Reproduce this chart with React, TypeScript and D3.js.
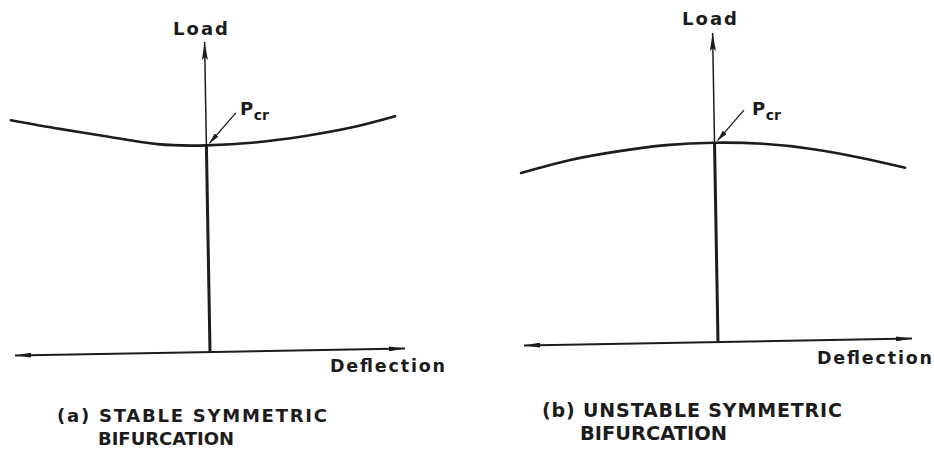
import * as d3 from "d3";

// Curve (a): stable symmetric bifurcation — load rises on both sides of Pcr
const stableDeflection = [-1, -0.75, -0.5, -0.25, 0, 0.25, 0.5, 0.75, 0.97];
const stableLoad = [1.138, 1.092, 1.05, 1.01, 1.0, 1.01, 1.036, 1.075, 1.125];

// Curve (b): unstable symmetric bifurcation — load drops on both sides of Pcr
const unstableDeflection = [-1, -0.75, -0.5, -0.25, 0, 0.25, 0.5, 0.75, 0.98];
const unstableLoad = [0.865, 0.925, 0.965, 0.992, 1.0, 0.99, 0.96, 0.912, 0.858];

const criticalLoad = 1.0;
const deflectionExtent = [-1, 1];
const loadAxisTop = [1.5, 1.55];

const loadTitle = "Load";
const deflectionTitle = "Deflection";
const pcrMain = "P";
const pcrSub = "cr";
const captionA = ["(a) STABLE SYMMETRIC", "BIFURCATION"];
const captionB = ["(b) UNSTABLE SYMMETRIC", "BIFURCATION"];

const W = 934;
const H = 450;
const ink = "#1c1c1c";
const font = "'DejaVu Sans', sans-serif";

type Layout = {
  ox: number;
  oy: number;
  halfW: number;
  loadPx: number;
  loadTop: number;
  deflection: number[];
  load: number[];
  loadLabel: [number, number, number];
  deflLabel: [number, number, number];
  pcrText: [number, number];
  caption: string[];
  cap1: [number, number, number];
  cap2: [number, number, number];
  capSize: number;
};

const panels: Layout[] = [
  {
    ox: 210,
    oy: 352,
    halfW: 195,
    loadPx: 310,
    loadTop: loadAxisTop[0],
    deflection: stableDeflection,
    load: stableLoad,
    loadLabel: [173, 35, 55],
    deflLabel: [330, 372, 115],
    pcrText: [240, 115],
    caption: captionA,
    cap1: [57, 422, 270],
    cap2: [98, 445, 136],
    capSize: 18,
  },
  {
    ox: 718,
    oy: 342,
    halfW: 194,
    loadPx: 309,
    loadTop: loadAxisTop[1],
    deflection: unstableDeflection,
    load: unstableLoad,
    loadLabel: [682, 25, 55],
    deflLabel: [817, 364, 115],
    pcrText: [752, 115],
    caption: captionB,
    cap1: [542, 417, 300],
    cap2: [580, 440, 147],
    capSize: 19,
  },
];

const Panel = ({ p, i }: { p: Layout; i: number }) => {
  const x = d3.scaleLinear().domain([-1, 1]).range([-p.halfW, p.halfW]);
  const y = d3.scaleLinear().domain([0, p.loadTop]).range([0, -p.loadPx]);

  const pts = p.deflection.map((d, k) => [d, p.load[k]] as [number, number]);
  const line = d3
    .line<[number, number]>()
    .x((d) => x(d[0]))
    .y((d) => y(d[1]))
    .curve(d3.curveNatural);

  const pcrX = x(0);
  const pcrY = y(criticalLoad);
  const tipX = pcrX + 3;
  const tipY = pcrY - 2;

  return (
    <g>
      <g transform={`translate(${p.ox},${p.oy}) rotate(-1)`}>
        {/* deflection axis, double headed */}
        <line
          x1={x(deflectionExtent[0])}
          x2={x(deflectionExtent[1])}
          y1={y(0)}
          y2={y(0)}
          stroke={ink}
          strokeWidth={2}
          markerStart={`url(#hArrow${i})`}
          markerEnd={`url(#hArrow${i})`}
        />
        {/* primary path below Pcr */}
        <line x1={pcrX} x2={pcrX} y1={y(0)} y2={pcrY} stroke={ink} strokeWidth={3} />
        {/* load axis above Pcr */}
        <line
          x1={pcrX}
          x2={pcrX}
          y1={pcrY}
          y2={y(p.loadTop)}
          stroke={ink}
          strokeWidth={1.5}
          markerEnd={`url(#vArrow${i})`}
        />
        {/* post-buckling curve */}
        <path d={line(pts) ?? ""} fill="none" stroke={ink} strokeWidth={2.6} strokeLinecap="round" />
        {/* Pcr pointer */}
        <line
          x1={tipX + 27}
          y1={tipY - 30}
          x2={tipX}
          y2={tipY}
          stroke={ink}
          strokeWidth={1.3}
          markerEnd={`url(#pArrow${i})`}
        />
      </g>

      <text
        x={p.loadLabel[0]}
        y={p.loadLabel[1]}
        textLength={p.loadLabel[2]}
        lengthAdjust="spacing"
        fontFamily={font}
        fontWeight="bold"
        fontSize={18}
        fill={ink}
      >
        {loadTitle}
      </text>
      <text
        x={p.deflLabel[0]}
        y={p.deflLabel[1]}
        textLength={p.deflLabel[2]}
        lengthAdjust="spacing"
        fontFamily={font}
        fontWeight="bold"
        fontSize={17.5}
        fill={ink}
      >
        {deflectionTitle}
      </text>
      <text x={p.pcrText[0]} y={p.pcrText[1]} fontFamily={font} fontWeight="bold" fontSize={18} fill={ink}>
        {pcrMain}
        <tspan dy={5} dx={0.5} fontSize={14}>
          {pcrSub}
        </tspan>
      </text>
      <text
        x={p.cap1[0]}
        y={p.cap1[1]}
        textLength={p.cap1[2]}
        lengthAdjust="spacing"
        fontFamily={font}
        fontWeight="bold"
        fontSize={p.capSize}
        fill={ink}
      >
        {p.caption[0]}
      </text>
      <text
        x={p.cap2[0]}
        y={p.cap2[1]}
        textLength={p.cap2[2]}
        lengthAdjust="spacingAndGlyphs"
        fontFamily={font}
        fontWeight="bold"
        fontSize={p.capSize}
        fill={ink}
      >
        {p.caption[1]}
      </text>
    </g>
  );
};

const App = () => {
  return (
    <svg
      width={W}
      height={H}
      style={{ position: "absolute", left: 0, top: 0, background: "#fff" }}
    >
      <defs>
        {panels.map((_, i) => (
          <g key={i}>
            <marker
              id={`vArrow${i}`}
              viewBox="0 0 18 6"
              refX={18}
              refY={3}
              markerWidth={18}
              markerHeight={6}
              markerUnits="userSpaceOnUse"
              preserveAspectRatio="none"
              orient="auto"
            >
              <path d="M0,0 L18,3 L0,6 L3,3 Z" fill={ink} />
            </marker>
            <marker
              id={`hArrow${i}`}
              viewBox="0 0 16 5"
              refX={16}
              refY={2.5}
              markerWidth={16}
              markerHeight={5}
              markerUnits="userSpaceOnUse"
              preserveAspectRatio="none"
              orient="auto-start-reverse"
            >
              <path d="M0,0 L16,2.5 L0,5 Z" fill={ink} />
            </marker>
            <marker
              id={`pArrow${i}`}
              viewBox="0 0 11 5"
              refX={11}
              refY={2.5}
              markerWidth={11}
              markerHeight={5}
              markerUnits="userSpaceOnUse"
              preserveAspectRatio="none"
              orient="auto"
            >
              <path d="M0,0 L11,2.5 L0,5 Z" fill={ink} />
            </marker>
          </g>
        ))}
      </defs>
      {panels.map((p, i) => (
        <Panel key={i} p={p} i={i} />
      ))}
    </svg>
  );
};

export default App;
